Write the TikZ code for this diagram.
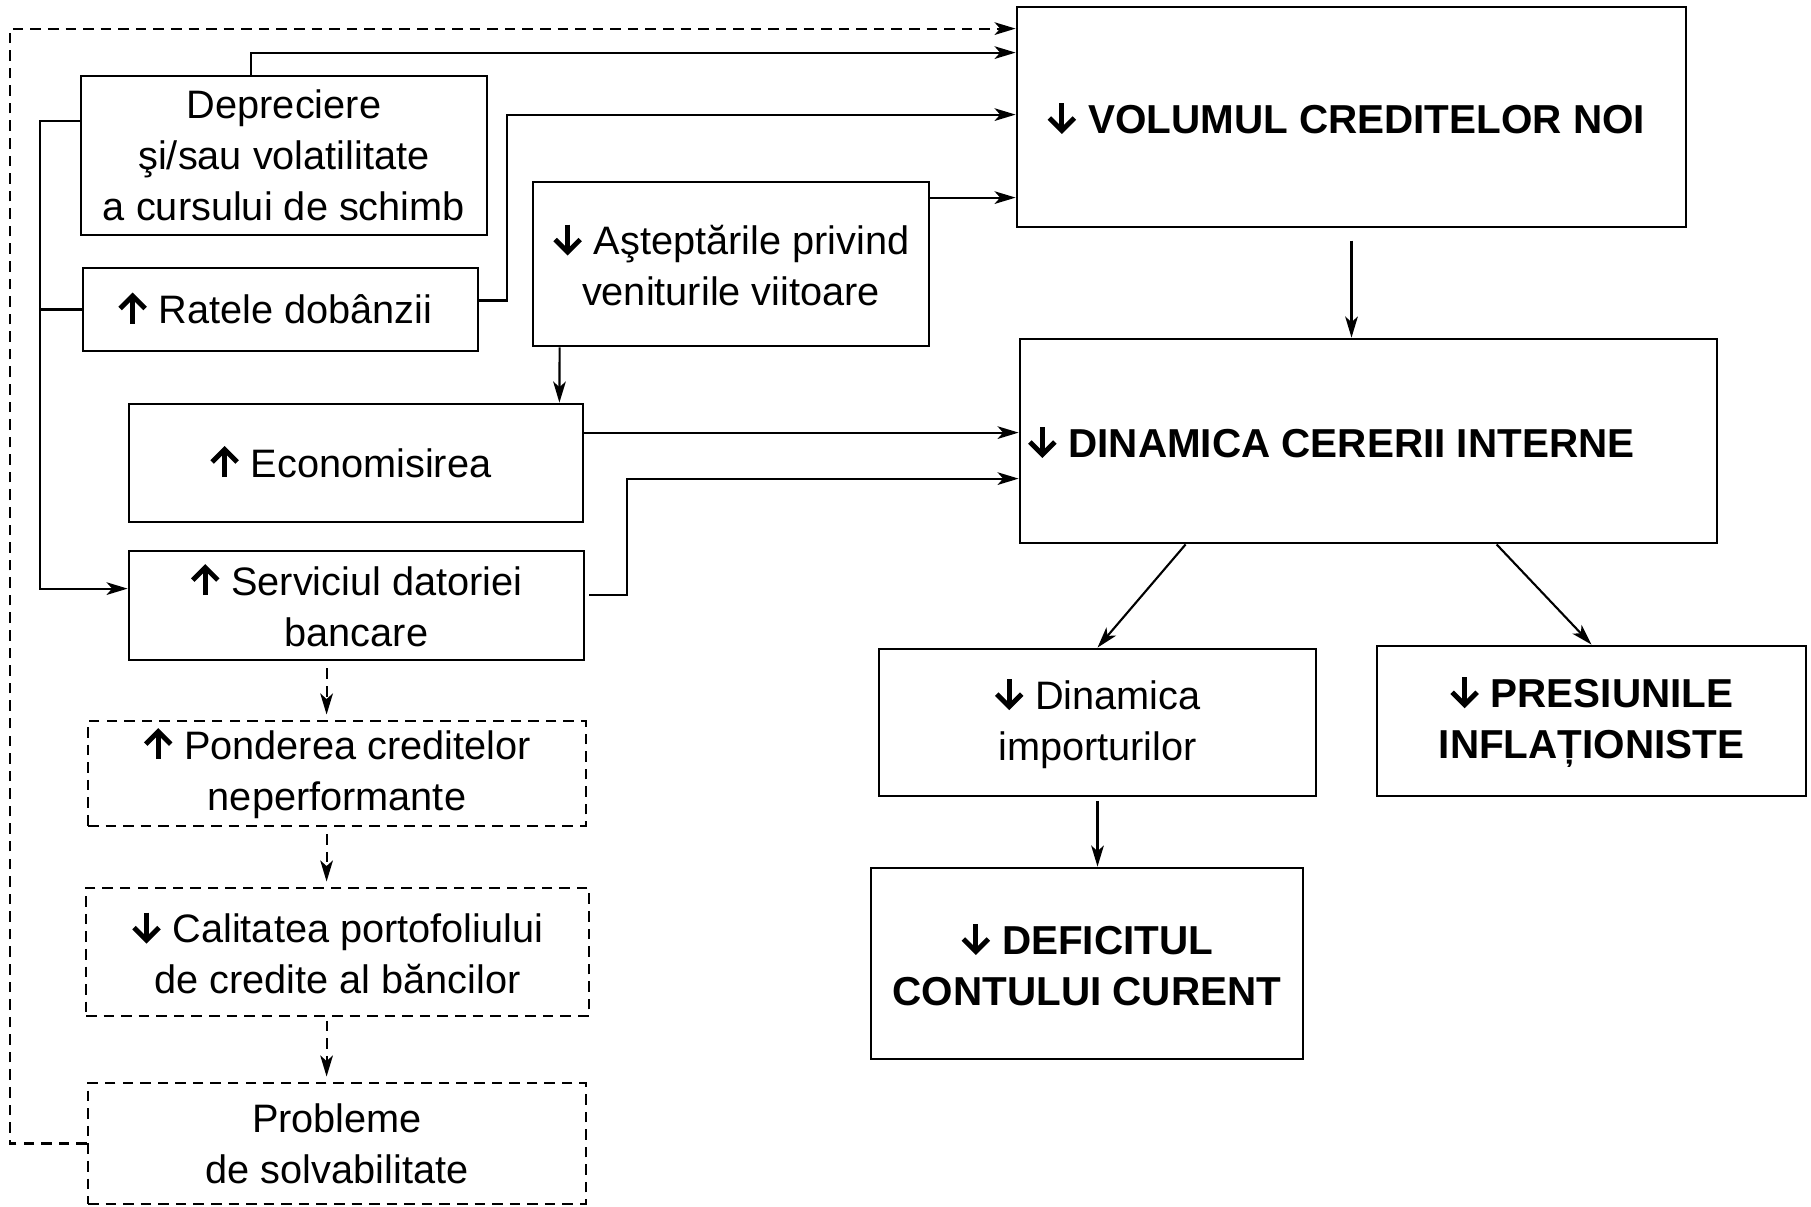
\documentclass[tikz,border=0pt]{standalone}
\usepackage{fontspec}
\setmainfont{Liberation Sans}
\usetikzlibrary{arrows.meta, calc, positioning}

% Heavy up / down arrows in the labels
\newcommand{\upar}{\tikz[baseline=0pt]{%
  \draw[line width=1.4pt] (0,0) -- (0,0.28);
  \draw[line width=1.4pt, line join=miter] (-0.125,0.15) -- (0,0.275) -- (0.125,0.15);}}
\newcommand{\downar}{\tikz[baseline=0pt]{%
  \draw[line width=1.4pt] (0,0.3) -- (0,0.02);
  \draw[line width=1.4pt, line join=miter] (-0.125,0.15) -- (0,0.025) -- (0.125,0.15);}}

\tikzset{
  % Plain boxes
  box/.style={
    rectangle, draw=black, line width=0.8pt, inner sep=0pt,
    align=center, font=\fontsize{11.3}{14.5}\selectfont,
  },
  % Bank-side consequences
  dbox/.style={box, line width=0.7pt, dash pattern=on 3pt off 2pt},
  % Main macro blocks
  bigbox/.style={box, font=\fontsize{11.5}{14.5}\selectfont\bfseries},
  % Arrows
  myline/.style={line width=0.6pt},
  myarrow/.style={myline, -{Stealth[length=6pt, width=3.6pt, inset=1.6pt]}},
  dasharrow/.style={myarrow, dash pattern=on 3pt off 2pt},
}

\begin{document}
\begin{tikzpicture}

  \useasboundingbox (0,0) rectangle (18.11,-12.06);

  % Left column
  \node[box, minimum width=4.06cm, minimum height=1.59cm] (deprec) at (2.84,-1.555) {
    Depreciere\\şi/sau volatilitate\\a cursului de schimb
  };
  \node[box, minimum width=3.95cm, minimum height=0.83cm] (ratele) at (2.805,-3.095) {
    \upar\ Ratele dobânzii
  };
  \node[box, minimum width=3.96cm, minimum height=1.64cm] (astept) at (7.31,-2.64) {
    \downar\ Aşteptările privind\\veniturile viitoare
  };
  \node[box, minimum width=4.54cm, minimum height=1.18cm] (econ) at (3.56,-4.63) {
    \upar\ Economisirea
  };
  \node[box, minimum width=4.55cm, minimum height=1.09cm] (serv) at (3.565,-6.055) {
    \upar\ Serviciul datoriei\\bancare
  };
  \node[dbox, minimum width=4.98cm, minimum height=1.05cm] (ponder) at (3.37,-7.735) {
    \upar\ Ponderea creditelor\\neperformante
  };
  \node[dbox, minimum width=5.03cm, minimum height=1.28cm] (calit) at (3.375,-9.52) {
    \downar\ Calitatea portofoliului\\de credite al băncilor
  };
  \node[dbox, minimum width=4.98cm, minimum height=1.21cm] (probl) at (3.37,-11.435) {
    Probleme\\de solvabilitate
  };

  % Right side
  \node[bigbox, minimum width=6.69cm, minimum height=2.2cm] (volum) at (13.515,-1.17) {
    \downar\ VOLUMUL CREDITELOR NOI
  };
  \node[bigbox, minimum width=6.97cm, minimum height=2.04cm] (dinam) at (13.685,-4.41) {
    \downar\ DINAMICA CERERII INTERNE\hspace*{0.64cm}
  };
  \node[box, minimum width=4.37cm, minimum height=1.47cm] (import) at (10.975,-7.225) {
    \downar\ Dinamica\\importurilor
  };
  \node[bigbox, minimum width=4.29cm, minimum height=1.5cm] (pres) at (15.915,-7.21) {
    \downar\ PRESIUNILE\\INFLAȚIONISTE
  };
  \node[bigbox, minimum width=4.32cm, minimum height=1.91cm] (deficit) at (10.87,-9.635) {
    \downar\ DEFICITUL\\CONTULUI CURENT
  };

  % Into the volume of new loans
  \draw[dasharrow] (probl.west) -- ++(-0.77,0) |- ($(volum.north west)+(0,-0.23)$);
  \draw[myarrow] ($(deprec.north west)+(1.71,0)$) |- ($(volum.north west)+(0,-0.47)$);
  \draw[myarrow] ($(ratele.east)+(0,0.09)$) -- ++(0.28,0) |- ($(volum.north west)+(0,-1.09)$);
  \draw[myarrow] ($(astept.north east)+(0,-0.17)$) -- ($(volum.north west)+(0,-1.92)$);

  % Left trunk
  \draw[myarrow] ($(deprec.north west)+(0,-0.46)$) -- ++(-0.40,0) coordinate (trunk)
    |- ($(serv.north west)+(0,-0.39)$);
  \draw[myline] (ratele.west) -- (ratele.west -| trunk);

  % Into domestic demand
  \draw[myarrow] ($(astept.south west)+(0.28,0)$) -- ($(econ.north east)+(-0.25,0)$);
  \draw[myarrow] ($(econ.north east)+(0,-0.30)$) coordinate (e-out) -- (e-out -| dinam.west);
  \draw[myarrow] ($(serv.north east)+(0.04,-0.45)$) -- ++(0.38,0) |- ($(dinam.north west)+(0,-1.41)$);
  \draw[myarrow, shorten <=3.5pt] (volum.south) -- (volum.south |- dinam.north);

  % Effects
  \draw[myarrow] ($(dinam.south west)+(1.67,0)$) -- (import.north);
  \draw[myarrow] ($(dinam.south west)+(4.78,0)$) -- (pres.north);
  \draw[myarrow, shorten <=1pt] (import.south) -- (import.south |- deficit.north);

  % Bank chain
  \draw[dasharrow, shorten <=2pt, shorten >=1.5pt] ($(serv.south west)+(1.99,0)$) coordinate (chain)
    -- (chain |- ponder.north);
  \draw[dasharrow, shorten <=2pt, shorten >=1.5pt] (chain |- ponder.south) -- (chain |- calit.north);
  \draw[dasharrow, shorten <=1pt, shorten >=1.5pt] (chain |- calit.south) -- (chain |- probl.north);

\end{tikzpicture}
\end{document}
